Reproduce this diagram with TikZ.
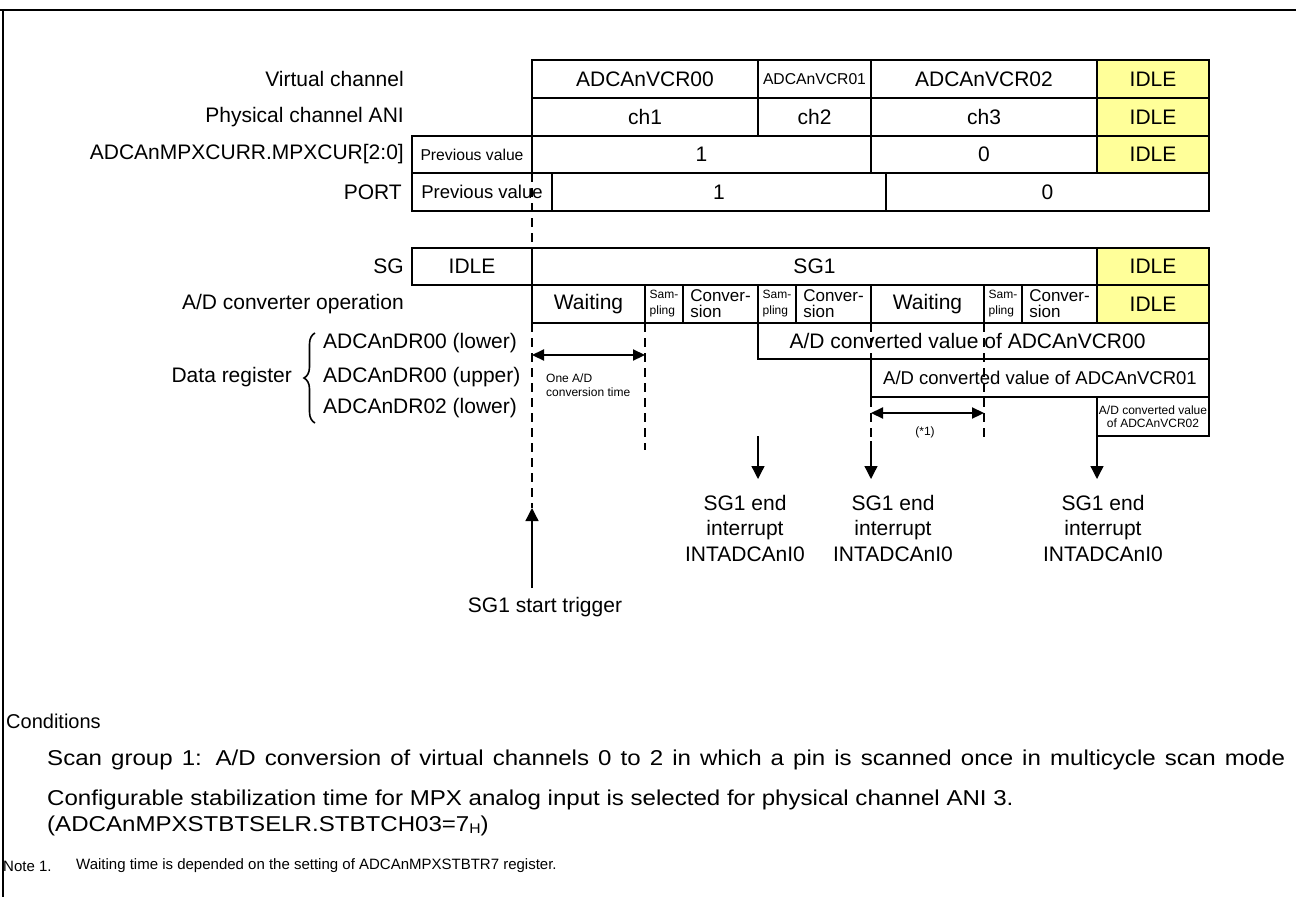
\documentclass[tikz,border=0pt]{standalone}
\usepackage{fontspec}
\setmainfont{Liberation Sans}
\newfontfamily\widefont[FakeStretch=1.12]{Liberation Sans}
\usetikzlibrary{arrows.meta,decorations.pathreplacing}
\definecolor{idle}{HTML}{FFFF99}
\tikzset{
  cell/.style={draw, line width=2.8pt, inner sep=0pt, outer sep=0pt, font=\fontsize{21}{24}\selectfont},
  idlecell/.style={cell, fill=idle},
  lbl/.style={anchor=east, inner sep=0pt, font=\fontsize{21}{24}\selectfont},
  lbll/.style={anchor=west, inner sep=0pt, font=\fontsize{21}{24}\selectfont},
  dashline/.style={line width=2.8pt, dash pattern=on 9pt off 6pt},
  evarrow/.style={line width=1.3pt, -{Triangle[length=13pt,width=13pt]}},
  spanarrow/.style={line width=2.2pt, {Triangle[length=12pt,width=11pt]}-{Triangle[length=12pt,width=11pt]}},
  tiny/.style={font=\fontsize{12}{14}\selectfont},
  twoline/.style={align=left, font=\fontsize{17}{16}\selectfont},
  samp/.style={align=left, font=\fontsize{12}{16}\selectfont},
  intr/.style={align=center, inner sep=0pt, font=\fontsize{21}{25.5}\selectfont},
  condtext/.style={anchor=west, inner sep=0pt, font=\widefont\fontsize{21.5}{24}\selectfont},
}
\newcommand\cellbox[7][]{\node[cell,#1,minimum width={(#5-#3)*1pt},minimum height={(#6-#4)*1pt}] (#2) at ({(#3+#5)/2},{(#4+#6)/2}) {#7};}
\begin{document}
\begin{tikzpicture}[x=1pt,y=-1pt]
\useasboundingbox (0,0) rectangle (1296,897);
% frame
\draw[line width=2.6pt] (0,10) -- (1296,10);
\draw[line width=2.6pt] (3,10) -- (3,897);
% left labels
\node[lbl] (lvc) at (404,79) {Virtual channel};
\node[lbl] (lpc) at (404,117) {Physical channel ANI};
\node[lbl] (lmpx) at (404,154.5) {ADCAnMPXCURR.MPXCUR[2:0]};
\node[lbl] (lport) at (402,192) {PORT};
\node[lbl] (lsg) at (404,266.5) {SG};
\node[lbl] (lad) at (404,304) {A/D converter operation};
% row 1
\cellbox{vc0}{532}{60}{758}{98}{ADCAnVCR00}
\cellbox[font=\fontsize{15.7}{18}\selectfont]{vc1}{758}{60}{871}{98}{ADCAnVCR01}
\cellbox{vc2}{871}{60}{1097}{98}{ADCAnVCR02}
\cellbox[idlecell]{vcI}{1097}{60}{1209}{98}{IDLE}
% row 2
\cellbox{ch1}{532}{98}{758}{136}{ch1}
\cellbox{ch2}{758}{98}{871}{136}{ch2}
\cellbox{ch3}{871}{98}{1097}{136}{ch3}
\cellbox[idlecell]{chI}{1097}{98}{1209}{136}{IDLE}
% row 3
\cellbox[font=\fontsize{15.7}{18}\selectfont]{pv3}{412}{136}{532}{173}{Previous value}
\cellbox{m1}{532}{136}{871}{173}{1}
\cellbox{m0}{871}{136}{1097}{173}{0}
\cellbox[idlecell]{mI}{1097}{136}{1209}{173}{IDLE}
% row 4
\cellbox[font=\fontsize{18.5}{21}\selectfont]{pv4}{412}{173}{552}{211}{Previous value}
\cellbox{p1}{552}{173}{886}{211}{1}
\cellbox{p0}{886}{173}{1209}{211}{0}
% SG row
\cellbox{sgI}{412}{248}{532}{285}{IDLE}
\cellbox{sg1}{532}{248}{1097}{285}{SG1}
\cellbox[idlecell]{sgE}{1097}{248}{1209}{285}{IDLE}
% A/D operation row
\cellbox{wt1}{532}{285}{645}{323}{Waiting}
\cellbox[samp]{sp1}{645}{285}{683}{323}{Sam-\\pling}
\cellbox[twoline]{cv1}{683}{285}{758}{323}{Conver-\\sion}
\cellbox[samp]{sp2}{758}{285}{796}{323}{Sam-\\pling}
\cellbox[twoline]{cv2}{796}{285}{871}{323}{Conver-\\sion}
\cellbox{wt2}{871}{285}{984}{323}{Waiting}
\cellbox[samp]{sp3}{984}{285}{1022}{323}{Sam-\\pling}
\cellbox[twoline]{cv3}{1022}{285}{1097}{323}{Conver-\\sion}
\cellbox[idlecell]{adI}{1097}{285}{1209}{323}{IDLE}
% data registers
\cellbox{d0}{758}{323}{1209}{359}{\hspace*{-32pt}A/D converted value of ADCAnVCR00}
\cellbox[font=\fontsize{18.5}{21}\selectfont]{d1}{871}{359}{1209}{397}{A/D converted value of ADCAnVCR01}
\cellbox[align=center,font=\fontsize{12}{12.5}\selectfont]{d2}{1097}{397}{1209}{436}{A/D converted value\\of ADCAnVCR02}
\node[lbll] (r0) at (323,343) {ADCAnDR00 (lower)};
\node[lbll] (r1) at (323,377) {ADCAnDR00 (upper)};
\node[lbll] (r2) at (323,408) {ADCAnDR02 (lower)};
\node[lbl] (ldr) at (292,377) {Data register};
\draw[line width=1.6pt, decorate, decoration={brace, amplitude=11pt}] (315,423) -- (315,333);
% dashed time lines
\coordinate (trigtip) at (532,508);
\coordinate (q645) at (645,450);
\coordinate (q871) at (871,438);
\coordinate (q984) at (984,438);
\draw[dashline] (pv3.south east) -- (sgI.north east);
\draw[dashline] (wt1.south west) -- (trigtip);
\draw[dashline] (wt1.south east) -- (q645);
\draw[dashline] (wt2.south west) -- (q871);
\draw[dashline] (wt2.south east) -- (q984);
% span arrows
\coordinate (sa1) at (532,355);
\coordinate (sa2) at (645,355);
\coordinate (sb1) at (871,413);
\coordinate (sb2) at (984,413);
\draw[spanarrow] (sa1) -- (sa2);
\draw[spanarrow] (sb1) -- (sb2);
\node[tiny, align=left, anchor=west, inner sep=0pt] (onead) at (546,385) {One A/D\\conversion time};
\node[tiny, inner sep=0pt] (note1) at (925,432) {(*1)};
% trigger
\node[inner sep=0pt, font=\fontsize{21}{24}\selectfont] (trig) at (545,607) {SG1 start trigger};
\coordinate (trigbase) at (532,588);
\draw[evarrow] (trigbase) -- (trigtip);
% interrupts
\node[intr] (int1) at (745,528) {SG1 end\\interrupt\\INTADCAnI0};
\node[intr] (int2) at (893,528) {SG1 end\\interrupt\\INTADCAnI0};
\node[intr] (int3) at (1103,528) {SG1 end\\interrupt\\INTADCAnI0};
\coordinate (e1s) at (758,436);
\coordinate (e1t) at (758,479);
\coordinate (e2s) at (871,441);
\coordinate (e2t) at (871,479);
\coordinate (e3t) at (1097,479);
\draw[evarrow] (e1s) -- (e1t);
\draw[evarrow] (e2s) -- (e2t);
\draw[evarrow] (d2.south west) -- (e3t);
% conditions
\node[anchor=west, inner sep=0pt, font=\fontsize{20}{24}\selectfont] (cond) at (6,721) {Conditions};
\node[condtext] (c1) at (47,760) {\hbox to 1238pt{Scan group 1: A/D conversion of virtual channels 0 to 2 in which a pin is scanned once in multicycle scan mode}};
\node[condtext] (c2) at (47,800) {Configurable stabilization time for MPX analog input is selected for physical channel ANI 3.};
\node[condtext] (c3) at (47,826) {(ADCAnMPXSTBTSELR.STBTCH03=7\raisebox{-2pt}{\fontsize{14}{16}\selectfont H})};
\node[anchor=west, inner sep=0pt, font=\fontsize{15}{18}\selectfont] (n1) at (3,866) {Note 1.};
\node[anchor=west, inner sep=0pt, font=\fontsize{15}{18}\selectfont] (n1t) at (76,866) {Waiting time is depended on the setting of ADCAnMPXSTBTR7 register.};
\end{tikzpicture}
\end{document}
